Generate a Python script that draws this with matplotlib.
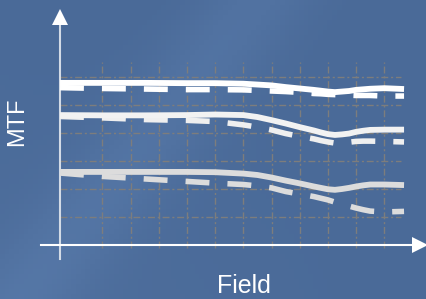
import numpy as np
import matplotlib
matplotlib.use("Agg")
import matplotlib.pyplot as plt

# field positions (relative units) where the curves were read
field = [0, 0.15, 0.3, 0.45, 0.55, 0.65, 0.7, 0.75, 0.8, 0.85, 0.9, 0.925, 0.95, 0.975,
         1.0, 1.025, 1.05, 1.075, 1.1, 1.15, 1.22]

# MTF values
top_solid = [0.579, 0.579, 0.579, 0.578, 0.578, 0.576, 0.573, 0.570, 0.564, 0.559, 0.554, 0.551, 0.548, 0.546,
             0.548, 0.550, 0.554, 0.556, 0.558, 0.560, 0.557]
top_dashed = [0.562, 0.559, 0.557, 0.555, 0.555, 0.554, 0.552, 0.550, 0.548, 0.545, 0.541, 0.540, 0.538, 0.537,
              0.536, 0.535, 0.534, 0.534, 0.534, 0.532, 0.532]
mid_solid = [0.464, 0.463, 0.463, 0.464, 0.466, 0.464, 0.457, 0.446, 0.434, 0.421, 0.409, 0.402, 0.396, 0.393,
             0.395, 0.398, 0.404, 0.408, 0.411, 0.412, 0.412]
mid_dashed = [0.459, 0.454, 0.448, 0.445, 0.441, 0.429, 0.421, 0.411, 0.398, 0.388, 0.379, 0.373, 0.368, 0.364,
              0.364, 0.367, 0.370, 0.371, 0.371, 0.370, 0.368]
low_solid = [0.261, 0.261, 0.261, 0.261, 0.260, 0.255, 0.250, 0.241, 0.230, 0.220, 0.209, 0.204, 0.199, 0.197,
             0.200, 0.204, 0.209, 0.213, 0.216, 0.216, 0.214]
low_dashed = [0.257, 0.245, 0.236, 0.227, 0.221, 0.216, 0.211, 0.204, 0.191, 0.182, 0.173, 0.167, 0.161, 0.153,
              0.146, 0.139, 0.132, 0.126, 0.121, 0.118, 0.120]

# grid positions
grid_x = [0.15 + 0.1 * k for k in range(11)]
grid_y = [0.1, 0.2, 0.3, 0.4, 0.5, 0.6]

fig = plt.figure(figsize=(4.27, 2.99), dpi=100)
ax = fig.add_axes([0, 0, 1, 1])
ax.set_xlim(-0.2128, 1.3014)
ax.set_ylim(-0.1929, 0.875)
ax.axis("off")

# blue background with a soft gradient
yy, xx = np.mgrid[0:1:60j, 0:1:90j]
c_main = np.array([74, 106, 152]) / 255
c_light = np.array([88, 122, 170]) / 255
band = np.exp(-((xx - 0.55 * (1 - yy) - 0.05) ** 2) / 0.02)
w = 0.55 * band + 0.25 * (1 - xx) * yy
img = c_main[None, None, :] * (1 - w[..., None]) + c_light[None, None, :] * w[..., None]
ax.imshow(np.clip(img, 0, 1), extent=[-0.2128, 1.3014, -0.1929, 0.875],
          aspect="auto", origin="upper", zorder=0)

# dash-dot grid
grid_kw = dict(color="#7d7d7d", lw=1.0, linestyle=(0, (5, 2, 1.5, 2)), zorder=1)
for gx in grid_x:
    ax.plot([gx, gx], [-0.011, 0.654], **grid_kw)
for gy in grid_y:
    ax.plot([0, 1.209], [gy, gy], **grid_kw)

# axes with arrows
ax.plot([0, 0], [-0.05, 0.80], color="#d3dbe6", lw=1.5, zorder=2)
ax.plot([0], [0.8125], marker="^", ms=11, color="white", mew=0, zorder=3)
ax.plot([-0.067, 1.26], [0, 0], color="white", lw=1.5, zorder=2)
ax.plot([1.275], [0], marker=">", ms=11, color="white", mew=0, zorder=3)

dash = (0, (4.3, 3.25))
ax.plot(field, top_dashed, color="white", lw=4, linestyle=dash, zorder=4)
ax.plot(field, top_solid, color="white", lw=4.2, zorder=5, solid_capstyle="butt")
ax.plot(field, mid_dashed, color="#efefef", lw=4, linestyle=dash, zorder=4)
ax.plot(field, mid_solid, color="#f2f2f2", lw=4.2, zorder=5, solid_capstyle="butt")
ax.plot(field, low_dashed, color="#dcdcdc", lw=4, linestyle=dash, zorder=4)
ax.plot(field, low_solid, color="#dcdcdc", lw=4.2, zorder=5, solid_capstyle="butt")

fig.text(17 / 427, 1 - 121.5 / 299, "MTF", rotation=90, ha="center", va="center",
         fontsize=17, color="white", family="Liberation Sans")
fig.text(244 / 427, 1 - 286 / 299, "Field", ha="center", va="center",
         fontsize=18, color="white", family="Liberation Sans")

fig.savefig("out.png", dpi=100)
